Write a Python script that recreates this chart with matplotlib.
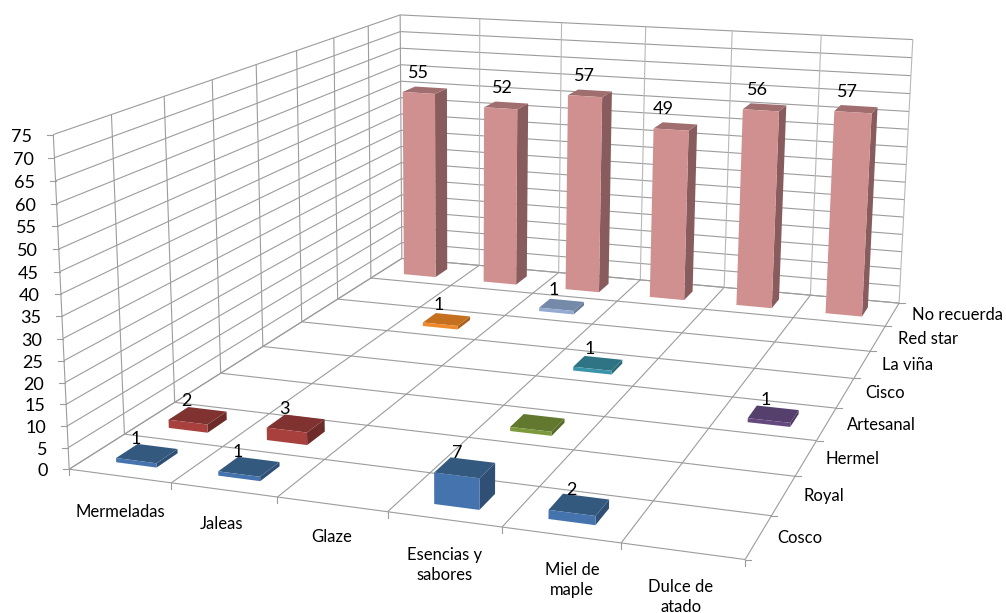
import numpy as np
import matplotlib
matplotlib.use("Agg")
import matplotlib.pyplot as plt
from matplotlib.patches import Polygon

categories = ["Mermeladas", "Jaleas", "Glaze", "Esencias y\nsabores", "Miel de\nmaple", "Dulce de\natado"]
series_names = ["Cosco", "Royal", "Hermel", "Artesanal", "Cisco", "La viña", "Red star", "No recuerda"]
z_ticks = list(range(0, 80, 5))

cosco = [1, 1, 0, 7, 2, 0]
royal = [2, 3, 0, 0, 0, 0]
hermel = [0, 0, 0, 1, 0, 0]
artesanal = [0, 0, 0, 0, 0, 1]
cisco = [0, 0, 0, 1, 0, 0]
la_vina = [0, 1, 0, 0, 0, 0]
red_star = [0, 0, 1, 0, 0, 0]
no_recuerda = [55, 52, 57, 49, 56, 57]
all_series = [cosco, royal, hermel, artesanal, cisco, la_vina, red_star, no_recuerda]

# front, top, side colours per series
face_colors = [
    ("#4473ad", "#34597f", "#2f4f75"),
    ("#a8403d", "#7f3230", "#6d2b29"),
    ("#7c9a3c", "#62782f", "#556a29"),
    ("#64497f", "#553f6c", "#4a3660"),
    ("#3a94aa", "#2e7485", "#296877"),
    ("#ee8a2c", "#c5701f", "#aa611b"),
    ("#94aad0", "#7589a8", "#6a7c99"),
    ("#d09090", "#a06e6e", "#885c5c"),
]

# camera: (cat, series, value) -> pixel, fitted on the chart box edges
camera_refs = [
    (0, 0, 0, 70, 469), (1, 0, 0, 172, 483), (2, 0, 0, 278, 498), (3, 0, 0, 387, 512),
    (4, 0, 0, 502, 528), (5, 0, 0, 621, 543), (6, 0, 0, 745, 559),
    (6, 1, 0, 771, 515), (6, 2, 0, 795, 476), (6, 3, 0, 816, 441), (6, 4, 0, 836, 408),
    (6, 5, 0, 855, 378), (6, 6, 0, 871, 352), (6, 7, 0, 886, 325), (6, 8, 0, 900, 303),
    (0, 1, 0, 125, 433), (0, 2, 0, 174, 403), (0, 3, 0, 220, 373), (0, 4, 0, 263, 347),
    (0, 5, 0, 302, 321), (0, 6, 0, 337, 298), (0, 7, 0, 371, 278), (0, 8, 0, 402, 260),
    (1, 8, 0, 480, 266), (2, 8, 0, 558, 273), (3, 8, 0, 639, 280), (4, 8, 0, 723, 287),
    (5, 8, 0, 810, 295),
    (0, 0, 75, 52, 135), (0, 1, 75, 112, 115), (0, 2, 75, 164, 97), (0, 3, 75, 212, 79),
    (0, 4, 75, 257, 64), (0, 5, 75, 296, 51), (0, 6, 75, 334, 37), (0, 7, 75, 369, 25),
    (0, 8, 75, 400, 14), (1, 8, 75, 480, 19), (2, 8, 75, 562, 23), (3, 8, 75, 646, 27),
    (4, 8, 75, 732, 32), (5, 8, 75, 820, 36), (6, 8, 75, 913, 39),
]


def fit_camera(refs):
    rows = []
    for cx, cy, cz, u, v in refs:
        w = [cx / 6, cy / 8, cz / 75, 1]
        u, v = u / 1000, v / 1000
        rows.append(w + [0, 0, 0, 0] + [-u * a for a in w])
        rows.append([0, 0, 0, 0] + w + [-v * a for a in w])
    return np.linalg.svd(np.array(rows))[2][-1].reshape(3, 4)


P = fit_camera(camera_refs)


def project(cx, cy, cz):
    p = P @ np.array([cx / 6, cy / 8, cz / 75, 1])
    return 1000 * p[0] / p[2], 1000 * p[1] / p[2]


fig = plt.figure(figsize=(10.06, 6.13), dpi=100)
ax = fig.add_axes([0, 0, 1, 1])
ax.set_xlim(0, 1006)
ax.set_ylim(613, 0)
ax.axis("off")

plt.rcParams["font.family"] = ["Lato", "DejaVu Sans"]
grid_color = "#9c9c9c"


def line3(a, b, lw=0.8, color=grid_color):
    pa, pb = project(*a), project(*b)
    ax.plot([pa[0], pb[0]], [pa[1], pb[1]], color=color, lw=lw, zorder=1, solid_capstyle="butt")


# walls
for v in z_ticks:
    line3((0, 0, v), (0, 8, v))
    line3((0, 8, v), (6, 8, v))
for s in range(9):
    line3((0, s, 0), (0, s, 75))
for c in range(1, 7):
    line3((c, 8, 0), (c, 8, 75), color="#b8b8b8")

# floor
for s in range(9):
    line3((0, s, 0), (6, s, 0))
for c in range(7):
    line3((c, 0, 0), (c, 8, 0))

# tick marks
for v in z_ticks:
    x, y = project(0, 0, v)
    ax.plot([x - 6, x], [y, y], color=grid_color, lw=0.8, zorder=1)
for c in range(7):
    x, y = project(c, 0, 0)
    ax.plot([x, x], [y, y + 6], color=grid_color, lw=0.8, zorder=1)
for s in range(9):
    x, y = project(6, s, 0)
    ax.plot([x, x + 6], [y, y], color=grid_color, lw=0.8, zorder=1)


def draw_bar(c, s, value, colors):
    x0, x1 = c + 0.3, c + 0.7
    y0, y1 = s + 0.3, s + 0.7
    front, top, side = colors
    faces = [
        ([(x1, y0, 0), (x1, y1, 0), (x1, y1, value), (x1, y0, value)], side),
        ([(x0, y0, value), (x1, y0, value), (x1, y1, value), (x0, y1, value)], top),
        ([(x0, y0, 0), (x1, y0, 0), (x1, y0, value), (x0, y0, value)], front),
    ]
    for corners, color in faces:
        pts = [project(*p) for p in corners]
        ax.add_patch(Polygon(pts, closed=True, facecolor=color, edgecolor="none", zorder=2))


# bars back to front, so nearer rows cover farther ones
for s in range(len(all_series) - 1, -1, -1):
    for c, value in enumerate(all_series[s]):
        if value > 0:
            draw_bar(c, s, value, face_colors[s])

# value labels; the Hermel bar has none
label_size = 13
back_row_dx = [-6, -4, -6, -12, -7, -9]
for s, values in enumerate(all_series):
    if series_names[s] == "Hermel":
        continue
    for c, value in enumerate(values):
        if value > 0:
            x, y = project(c + 0.5, s + 0.5, value)
            if s == 7:
                dx, dy = back_row_dx[c], -17
            elif s < 2 and c < 2:
                dx, dy = -11, -14.5
            else:
                dx, dy = -8, -14.5
            ax.text(x + dx, y + dy, str(value), ha="center", va="center", fontsize=label_size, color="black", zorder=3)

# value axis labels
for v in z_ticks:
    x, y = project(0, 0, v)
    ax.text(x - 21, y + 2, str(v), ha="right", va="center", fontsize=label_size, color="black")

cat_label_xy = [(120, 512), (222, 524), (332, 537), (445, 565), (572, 580), (681, 597)]
for name, (x, y) in zip(categories, cat_label_xy):
    ax.text(x, y, name, ha="center", va="center", fontsize=12, color="black", linespacing=1.3)

series_label_xy = [(800, 538), (824, 496), (853, 459), (881, 425), (885, 393), (908, 365), (928, 339), (958, 315)]
for name, (x, y) in zip(series_names, series_label_xy):
    ax.text(x, y, name, ha="center", va="center", fontsize=12, color="black")

fig.savefig("out.png", dpi=100)
